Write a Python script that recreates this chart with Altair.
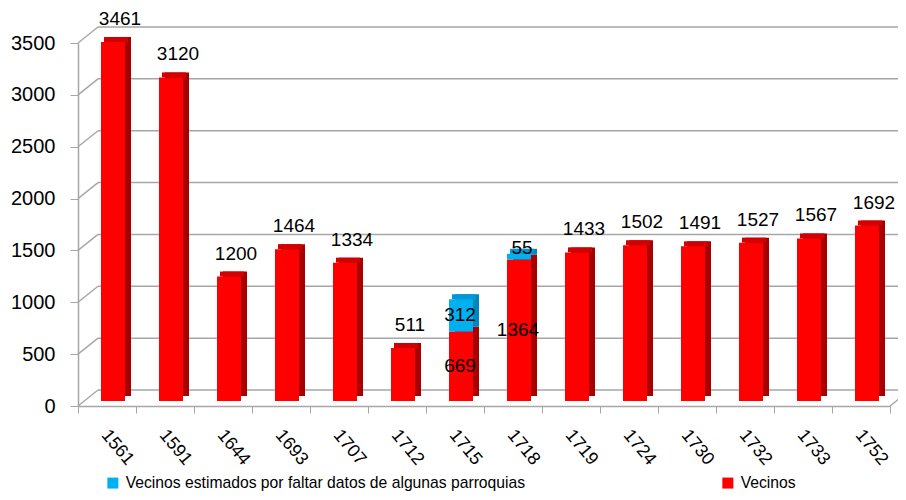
import altair as alt
import pandas as pd

years = ["1561", "1591", "1644", "1693", "1707", "1712", "1715", "1718",
         "1719", "1724", "1730", "1732", "1733", "1752"]
vecinos = [3461, 3120, 1200, 1464, 1334, 511, 669, 1364, 1433, 1502, 1491, 1527, 1567, 1692]
estimados = [0, 0, 0, 0, 0, 0, 312, 55, 0, 0, 0, 0, 0, 0]
y_ticks = [0, 500, 1000, 1500, 2000, 2500, 3000, 3500]

S_EST = "Vecinos estimados por faltar datos de algunas parroquias"
S_VEC = "Vecinos"
FONT = "Liberation Sans"
GRID = "#A6A6A6"
W, H = 812, 363

rows = []
for yr, v, e in zip(years, vecinos, estimados):
    rows.append(dict(year=yr, serie=S_VEC, value=v, ord=0, side="#A80000"))
    if e > 0:
        rows.append(dict(year=yr, serie=S_EST, value=e, ord=1, side="#0086BE"))
bars = pd.DataFrame(rows)

tops = pd.DataFrame({
    "year": years,
    "total": [v + e for v, e in zip(vecinos, estimados)],
    "topc": ["#0098D6" if e > 0 else "#D20000" for e in estimados],
})

lab_rows = []
for yr, v, e in zip(years, vecinos, estimados):
    if e == 0:
        lab_rows.append(dict(year=yr, ypos=v, text=str(v), kind="above"))
    else:
        lab_rows.append(dict(year=yr, ypos=v / 2, text=str(v), kind="inside"))
        lab_rows.append(dict(year=yr, ypos=v + e / 2, text=str(e),
                             kind="inside" if e > 100 else "small"))
labels = pd.DataFrame(lab_rows)
grid = pd.DataFrame({"t": y_ticks})

x_axis = alt.Axis(title=None, labelAngle=50, labelAlign="left", labelBaseline="top",
                  labelFont=FONT, labelFontSize=18, labelColor="black",
                  labelPadding=13, labelOffset=4, tickBand="extent",
                  tickSize=7, tickColor=GRID, domainColor=GRID, domainWidth=1.5,
                  grid=False)
y_axis = alt.Axis(title=None, values=y_ticks, format="d", labelFont=FONT, labelFontSize=20,
                  labelColor="black", labelPadding=15, tickSize=8, tickColor=GRID,
                  domainColor=GRID, domainWidth=1.5, grid=False)
x_scale = alt.Scale(paddingInner=0, paddingOuter=0)
y_scale = alt.Scale(domain=[0, 3500], nice=False)

X = alt.X("year:N", sort=years, scale=x_scale, axis=x_axis)

back_grid = alt.Chart(grid).mark_rule(color=GRID, strokeWidth=1.5, yOffset=-16).encode(
    y=alt.Y("t:Q", scale=y_scale, axis=y_axis),
    x=alt.value(20), x2=alt.value(W + 20))
diag = alt.Chart(grid).mark_rule(color=GRID, strokeWidth=1.5, yOffset=0, y2Offset=-16).encode(
    y=alt.Y("t:Q", scale=y_scale, axis=y_axis), y2="t:Q",
    x=alt.value(0), x2=alt.value(20))
floor_diag = alt.Chart(grid[grid.t == 0]).mark_rule(color=GRID, strokeWidth=1.5, yOffset=0, y2Offset=-16).encode(
    y=alt.Y("t:Q", scale=y_scale, axis=y_axis), y2="t:Q",
    x=alt.value(W), x2=alt.value(W + 20))

side = alt.Chart(bars).mark_bar(size=24, xOffset=12, x2Offset=12, yOffset=-10, y2Offset=-10).encode(
    x=X,
    y=alt.Y("value:Q", stack="zero", scale=y_scale, axis=y_axis),
    order=alt.Order("ord:Q"),
    color=alt.Color("side:N", scale=None))

topface = alt.Chart(tops).mark_bar(size=24, xOffset=9, x2Offset=9, yOffset=-10, y2Offset=-5).encode(
    x=X,
    y=alt.Y("total:Q", scale=y_scale, axis=y_axis), y2="total:Q",
    color=alt.Color("topc:N", scale=None))

front = alt.Chart(bars).mark_bar(size=24, xOffset=6, x2Offset=6, yOffset=-5, y2Offset=-5).encode(
    x=X,
    y=alt.Y("value:Q", stack="zero", scale=y_scale, axis=y_axis),
    order=alt.Order("ord:Q"),
    color=alt.Color("serie:N",
                    scale=alt.Scale(domain=[S_EST, S_VEC], range=["#00B0F0", "#FF0000"]),
                    legend=alt.Legend(orient="none", legendX=27, legendY=432,
                                      direction="horizontal", columns=2, title=None,
                                      symbolType="square", symbolSize=121,
                                      symbolStrokeWidth=0, labelFont=FONT,
                                      labelFontSize=15.7, labelColor="black",
                                      labelLimit=600, columnPadding=194, labelOffset=5,
                                      padding=0)))

def text_layer(kind, dx, dy):
    return alt.Chart(labels[labels.kind == kind]).mark_text(
        font=FONT, fontSize=19, color="black", dx=dx, dy=dy, baseline="middle").encode(
        x=X, y=alt.Y("ypos:Q", scale=y_scale, axis=y_axis), text="text:N")

chart = alt.layer(
    back_grid, diag, floor_diag, side, topface, front,
    text_layer("above", 13, -28), text_layer("inside", 5, -5), text_layer("small", 9, -14),
).properties(
    width=W, height=H,
    padding={"left": 70, "top": 35, "right": 8, "bottom": 86},
    autosize=alt.AutoSizeParams(type="none"),
).configure_view(stroke=None)

chart.save("out.html", embed_options={"renderer": "svg", "actions": False})
